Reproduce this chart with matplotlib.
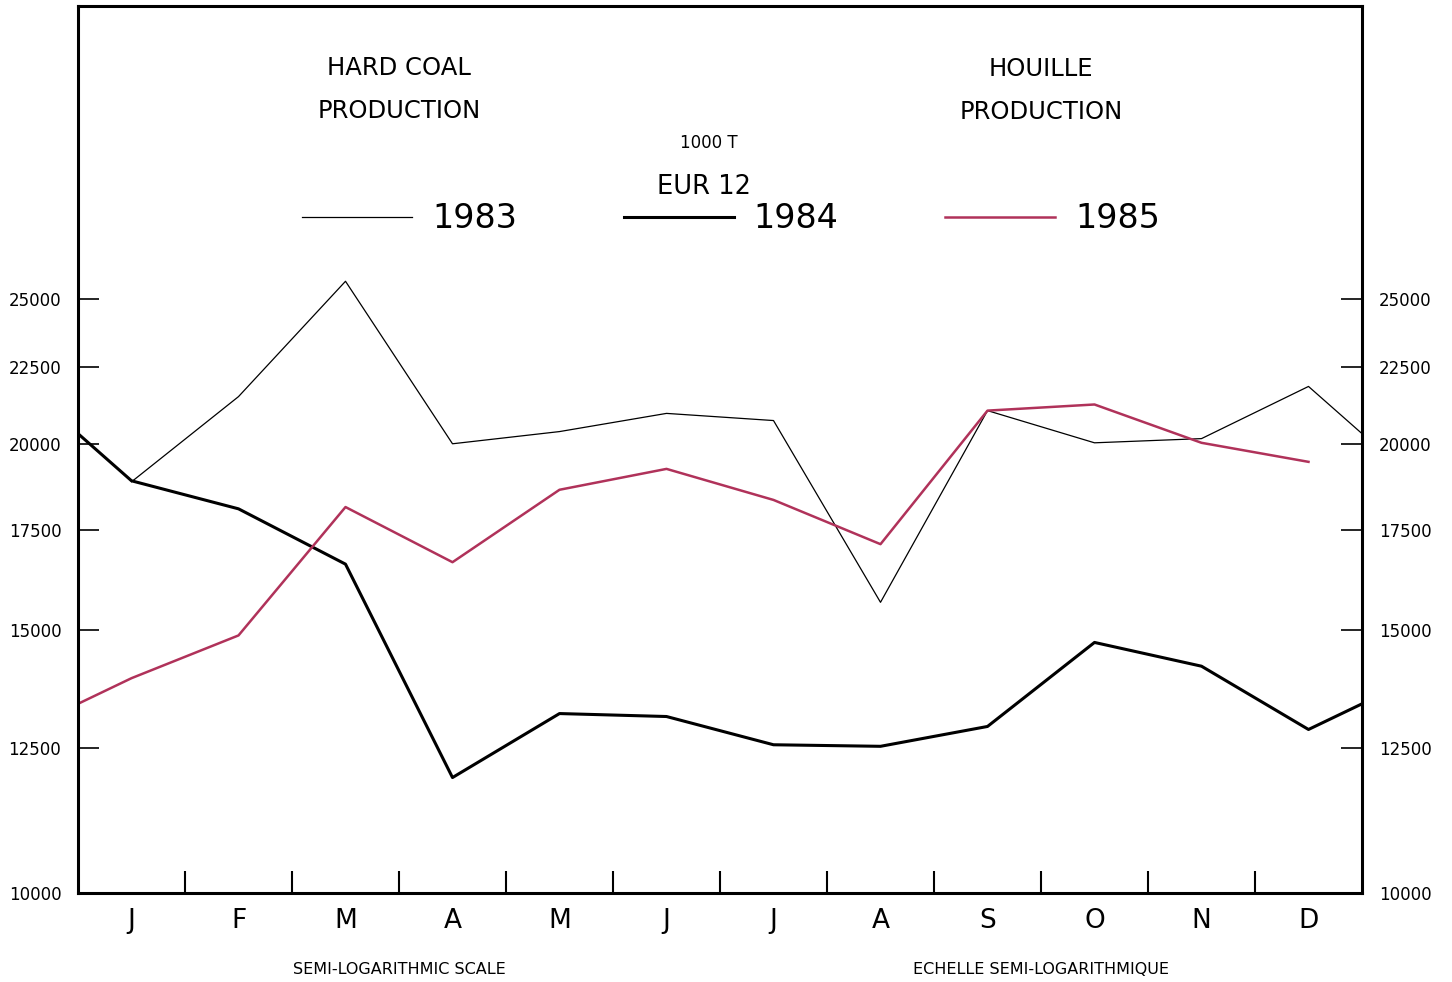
import numpy as np
import matplotlib
matplotlib.use("Agg")
import matplotlib.pyplot as plt

# monthly hard coal production, EUR 12, 1000 t
months = ['J', 'F', 'M', 'A', 'M', 'J', 'J', 'A', 'S', 'O', 'N', 'D']
prod_1983 = [18860, 21510, 25700, 20000, 20380, 20960, 20730, 15660, 21050, 20030, 20160, 21850]
prod_1984 = [18890, 18090, 16610, 11950, 13190, 13130, 12570, 12540, 12930, 14720, 14190, 12870]
prod_1985 = [13930, 14880, 18140, 16660, 18630, 19240, 18340, 17130, 21050, 21250, 20030, 19450]
ytick_vals = [10000, 12500, 15000, 17500, 20000, 22500, 25000]

red = '#b0325a'
plt.rcParams['font.family'] = ['DejaVu Sans']

fig = plt.figure(figsize=(14.52, 9.82), dpi=100)
ax = fig.add_axes([78 / 1452, 1 - 893 / 982, (1362 - 78) / 1452, (893 - 6) / 982])

xm = np.arange(12) + 0.5
# series run on from one year into the next, clipped by the frame
x83 = np.append(xm, 12.5)
y83 = np.append(prod_1983, prod_1984[0])
x84 = np.concatenate([[-0.5], xm, [12.5]])
y84 = np.concatenate([[prod_1983[-1]], prod_1984, [prod_1985[0]]])
x85 = np.append(-0.5, xm)
y85 = np.append(prod_1984[-1], prod_1985)

ax.plot(x83, y83, color='black', lw=0.9, label='1983')
ax.plot(x84, y84, color='black', lw=2.2, label='1984')
ax.plot(x85, y85, color=red, lw=1.8, label='1985')

ax.set_yscale('log')
ax.set_ylim(10000, 39300)
ax.set_xlim(0, 12)
ax.yaxis.set_minor_locator(matplotlib.ticker.NullLocator())
ax.set_yticks(ytick_vals)
ax.set_yticklabels([str(v) for v in ytick_vals])
ax.tick_params(axis='y', which='major', direction='in', length=15, width=1.2,
               left=True, right=True, labelleft=True, labelright=True,
               labelsize=12, pad=12)
ax.set_xticks(np.arange(1, 12))
ax.set_xticklabels([])
ax.tick_params(axis='x', which='major', direction='in', length=16, width=1.5)
ax.set_xticks(xm, minor=True)
ax.set_xticklabels(months, minor=True)
ax.tick_params(axis='x', which='minor', length=0, labelsize=19, pad=11)

for s in ax.spines.values():
    s.set_linewidth(2.2)

leg = ax.legend(loc='center', bbox_to_anchor=(731 / 1452, 1 - 219 / 982),
                bbox_transform=fig.transFigure, ncol=3, frameon=False,
                fontsize=24, handlelength=3.3, handletextpad=0.6,
                columnspacing=3.2)

fig.text(399 / 1452, 1 - 68 / 982, 'HARD COAL', ha='center', va='center', fontsize=17.5)
fig.text(399 / 1452, 1 - 111 / 982, 'PRODUCTION', ha='center', va='center', fontsize=17.5)
fig.text(1041 / 1452, 1 - 69 / 982, 'HOUILLE', ha='center', va='center', fontsize=17.5)
fig.text(1041 / 1452, 1 - 112 / 982, 'PRODUCTION', ha='center', va='center', fontsize=17.5)
fig.text(709 / 1452, 1 - 143 / 982, '1000 T', ha='center', va='center', fontsize=12)
fig.text(704 / 1452, 1 - 187 / 982, 'EUR 12', ha='center', va='center', fontsize=18.5)
fig.text(399 / 1452, 1 - 970 / 982, 'SEMI-LOGARITHMIC SCALE', ha='center', va='center', fontsize=11.5)
fig.text(1041 / 1452, 1 - 969 / 982, 'ECHELLE SEMI-LOGARITHMIQUE', ha='center', va='center', fontsize=11.5)

fig.savefig('out.png', dpi=100)
